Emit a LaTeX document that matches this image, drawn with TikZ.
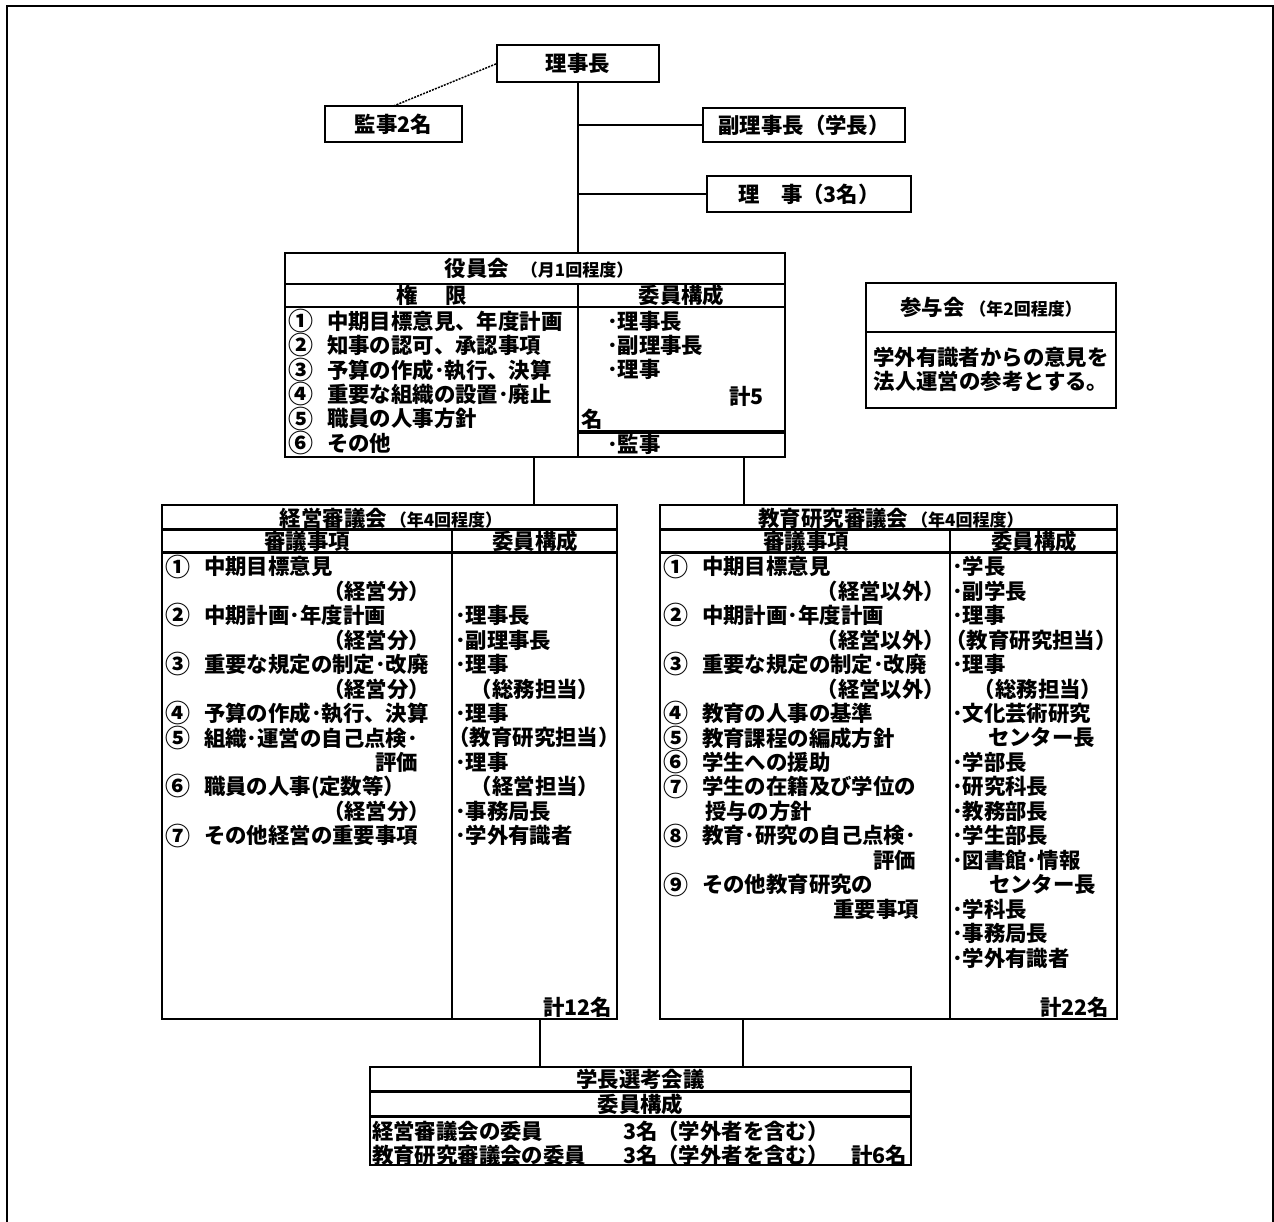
\documentclass[tikz,border=0pt]{standalone}
\usepackage{fontspec}
\setmainfont{Noto Sans CJK JP}
\usetikzlibrary{fit}
\newcommand\numitem[2]{\makebox[39pt][l]{\raisebox{-1.3pt}{\fontsize{25}{25}\selectfont #1}}#2}
\newcommand\smalltxt[1]{{\fontsize{17}{19}\selectfont #1}}
\begin{document}
\begin{tikzpicture}[x=1pt,y=-1pt,
  txt/.style={inner sep=0pt, outer sep=0pt, font=\bfseries\fontsize{21.4}{24}\selectfont},
  lbox/.style={draw, line width=2pt, inner sep=0pt, outer sep=0pt},
  cell/.style={draw, line width=2.5pt, inner sep=0pt, outer sep=0pt},
  conn/.style={line width=1.5pt},
  dots/.style={line width=1.5pt, dash pattern=on 2pt off 1.2pt},
]
\useasboundingbox (0,0) rectangle (1274,1221);
\draw[line width=2.5pt] (7,1230) -- (7,6) -- (1273,6) -- (1273,1230);

% ---- top boxes
\node[lbox, txt, minimum width=162pt, minimum height=37pt] (rijicho) at (578,63.5) {理事長};
\node[lbox, txt, minimum width=137pt, minimum height=36pt] (kanji) at (393.5,124) {監事2名};
\node[lbox, txt, minimum width=202pt, minimum height=34pt] (fuku) at (804,125) {副理事長（学長）};
\node[lbox, txt, minimum width=204pt, minimum height=36pt] (riji) at (809,194) {理　事（3名）};

% ---- 役員会
\node[cell, fit={(285,253) (785,284)}] (yk-title) {};
\node[cell, fit={(285,284) (578,307)}] (yk-h1) {};
\node[cell, fit={(578,284) (785,307)}] (yk-h2) {};
\node[cell, fit={(285,307) (578,457)}] (yk-left) {};
\node[cell, fit={(578,307) (785,431)}] (yk-right) {};
\node[cell, fit={(578,433) (785,457)}] (yk-kanji) {};
\node[txt] (yk-tt) at (539,268) {役員会\hspace{12pt}\smalltxt{（月1回程度）}};
\node[txt] (yk-h1t) at (yk-h1.center) {権\hspace{1.3em}限};
\node[txt] (yk-h2t) at (yk-h2.center) {委員構成};
\foreach \n/\t [count=\i from 0] in {①/中期目標意見、年度計画, ②/知事の認可、承認事項, ③/予算の作成･執行、決算, ④/重要な組織の設置･廃止, ⑤/職員の人事方針, ⑥/その他}
  \node[txt, anchor=west] (yk-l\i) at (288,321+24.4*\i) {\numitem{\n}{\t}};
\node[txt, anchor=west] (yk-r0) at (607,321) {･理事長};
\node[txt, anchor=west] (yk-r1) at (607,345.4) {･副理事長};
\node[txt, anchor=west] (yk-r2) at (607,369.8) {･理事};
\node[txt, anchor=east] (yk-r3) at (764,396) {計5};
\node[txt, anchor=west] (yk-r4) at (581,419) {名};
\node[txt, anchor=west] (yk-r5) at (607,444) {･監事};

% ---- 参与会
\node[cell, fit={(866,283) (1116,332)}] (sy-title) {};
\node[cell, fit={(866,332) (1116,408)}] (sy-body) {};
\node[txt] (sy-tt) at (sy-title.center) {参与会\hspace{5pt}\smalltxt{（年2回程度）}};
\node[txt] (sy-b1) at (991,357) {学外有識者からの意見を};
\node[txt] (sy-b2) at (991,381) {法人運営の参考とする。};

% ---- 経営審議会
\node[cell, fit={(162,505) (617,529)}] (kk-title) {};
\node[cell, fit={(162,530) (452,552)}] (kk-h1) {};
\node[cell, fit={(452,530) (617,552)}] (kk-h2) {};
\node[cell, fit={(162,553) (452,1019)}] (kk-left) {};
\node[cell, fit={(452,553) (617,1019)}] (kk-right) {};
\node[txt] (kk-tt) at (391,518) {経営審議会\hspace{3pt}\smalltxt{（年4回程度）}};
\node[txt] (kk-h1t) at (307,541.5) {審議事項};
\node[txt] (kk-h2t) at (535,541.5) {委員構成};
\def\yy#1{566.5+24.475*#1}
\node[txt, anchor=west] (kk-l0) at (165,{\yy{0}}) {\numitem{①}{中期目標意見}};
\node[txt, anchor=east] (kk-l1) at (430,{\yy{1}}) {（経営分）};
\node[txt, anchor=west] (kk-l2) at (165,{\yy{2}}) {\numitem{②}{中期計画･年度計画}};
\node[txt, anchor=east] (kk-l3) at (430,{\yy{3}}) {（経営分）};
\node[txt, anchor=west] (kk-l4) at (165,{\yy{4}}) {\numitem{③}{重要な規定の制定･改廃}};
\node[txt, anchor=east] (kk-l5) at (430,{\yy{5}}) {（経営分）};
\node[txt, anchor=west] (kk-l6) at (165,{\yy{6}}) {\numitem{④}{予算の作成･執行、決算}};
\node[txt, anchor=west] (kk-l7) at (165,{\yy{7}}) {\numitem{⑤}{組織･運営の自己点検･}};
\node[txt, anchor=east] (kk-l8) at (418,{\yy{8}}) {評価};
\node[txt, anchor=west] (kk-l9) at (165,{\yy{9}}) {\numitem{⑥}{職員の人事(定数等）}};
\node[txt, anchor=east] (kk-l10) at (430,{\yy{10}}) {（経営分）};
\node[txt, anchor=west] (kk-l11) at (165,{\yy{11}}) {\numitem{⑦}{その他経営の重要事項}};
\node[txt, anchor=west] (kk-r2) at (455,{\yy{2}}) {･理事長};
\node[txt, anchor=west] (kk-r3) at (455,{\yy{3}}) {･副理事長};
\node[txt, anchor=west] (kk-r4) at (455,{\yy{4}}) {･理事};
\node[txt] (kk-r5) at (535,{\yy{5}}) {（総務担当）};
\node[txt, anchor=west] (kk-r6) at (455,{\yy{6}}) {･理事};
\node[txt] (kk-r7) at (534,{\yy{7}}) {（教育研究担当）};
\node[txt, anchor=west] (kk-r8) at (455,{\yy{8}}) {･理事};
\node[txt] (kk-r9) at (535,{\yy{9}}) {（経営担当）};
\node[txt, anchor=west] (kk-r10) at (455,{\yy{10}}) {･事務局長};
\node[txt, anchor=west] (kk-r11) at (455,{\yy{11}}) {･学外有識者};
\node[txt, anchor=east] (kk-tot) at (612,1007) {計12名};

% ---- 教育研究審議会
\node[cell, fit={(660,505) (1117,529)}] (ek-title) {};
\node[cell, fit={(660,530) (950,552)}] (ek-h1) {};
\node[cell, fit={(950,530) (1117,552)}] (ek-h2) {};
\node[cell, fit={(660,553) (950,1019)}] (ek-left) {};
\node[cell, fit={(950,553) (1117,1019)}] (ek-right) {};
\node[txt] (ek-tt) at (891,518) {教育研究審議会\hspace{3pt}\smalltxt{（年4回程度）}};
\node[txt] (ek-h1t) at (806,541.5) {審議事項};
\node[txt] (ek-h2t) at (1034,541.5) {委員構成};
\node[txt, anchor=west] (ek-l0) at (663,{\yy{0}}) {\numitem{①}{中期目標意見}};
\node[txt, anchor=east] (ek-l1) at (945,{\yy{1}}) {（経営以外）};
\node[txt, anchor=west] (ek-l2) at (663,{\yy{2}}) {\numitem{②}{中期計画･年度計画}};
\node[txt, anchor=east] (ek-l3) at (945,{\yy{3}}) {（経営以外）};
\node[txt, anchor=west] (ek-l4) at (663,{\yy{4}}) {\numitem{③}{重要な規定の制定･改廃}};
\node[txt, anchor=east] (ek-l5) at (945,{\yy{5}}) {（経営以外）};
\node[txt, anchor=west] (ek-l6) at (663,{\yy{6}}) {\numitem{④}{教育の人事の基準}};
\node[txt, anchor=west] (ek-l7) at (663,{\yy{7}}) {\numitem{⑤}{教育課程の編成方針}};
\node[txt, anchor=west] (ek-l8) at (663,{\yy{8}}) {\numitem{⑥}{学生への援助}};
\node[txt, anchor=west] (ek-l9) at (663,{\yy{9}}) {\numitem{⑦}{学生の在籍及び学位の}};
\node[txt, anchor=west] (ek-l10) at (705,{\yy{10}}) {授与の方針};
\node[txt, anchor=west] (ek-l11) at (663,{\yy{11}}) {\numitem{⑧}{教育･研究の自己点検･}};
\node[txt, anchor=east] (ek-l12) at (916,{\yy{12}}) {評価};
\node[txt, anchor=west] (ek-l13) at (663,{\yy{13}}) {\numitem{⑨}{その他教育研究の}};
\node[txt, anchor=east] (ek-l14) at (919,{\yy{14}}) {重要事項};
\node[txt, anchor=west] (ek-r0) at (952,{\yy{0}}) {･学長};
\node[txt, anchor=west] (ek-r1) at (952,{\yy{1}}) {･副学長};
\node[txt, anchor=west] (ek-r2) at (952,{\yy{2}}) {･理事};
\node[txt] (ek-r3) at (1031,{\yy{3}}) {（教育研究担当）};
\node[txt, anchor=west] (ek-r4) at (952,{\yy{4}}) {･理事};
\node[txt] (ek-r5) at (1038,{\yy{5}}) {（総務担当）};
\node[txt, anchor=west] (ek-r6) at (952,{\yy{6}}) {･文化芸術研究};
\node[txt, anchor=east] (ek-r7) at (1095,{\yy{7}}) {センター長};
\node[txt, anchor=west] (ek-r8) at (952,{\yy{8}}) {･学部長};
\node[txt, anchor=west] (ek-r9) at (952,{\yy{9}}) {･研究科長};
\node[txt, anchor=west] (ek-r10) at (952,{\yy{10}}) {･教務部長};
\node[txt, anchor=west] (ek-r11) at (952,{\yy{11}}) {･学生部長};
\node[txt, anchor=west] (ek-r12) at (952,{\yy{12}}) {･図書館･情報};
\node[txt, anchor=east] (ek-r13) at (1096,{\yy{13}}) {センター長};
\node[txt, anchor=west] (ek-r14) at (952,{\yy{14}}) {･学科長};
\node[txt, anchor=west] (ek-r15) at (952,{\yy{15}}) {･事務局長};
\node[txt, anchor=west] (ek-r16) at (952,{\yy{16}}) {･学外有識者};
\node[txt, anchor=east] (ek-tot) at (1109,1007) {計22名};

% ---- 学長選考会議
\node[cell, fit={(370,1067) (911,1091)}] (gk-title) {};
\node[cell, fit={(370,1092) (911,1116)}] (gk-h) {};
\node[cell, fit={(370,1117) (911,1165)}] (gk-body) {};
\node[txt] (gk-tt) at (gk-title.center) {学長選考会議};
\node[txt] (gk-ht) at (gk-h.center) {委員構成};
\node[txt, anchor=west] (gk-a1) at (372,1131) {経営審議会の委員};
\node[txt, anchor=west] (gk-a2) at (623,1131) {3名（学外者を含む）};
\node[txt, anchor=west] (gk-b1) at (372,1155) {教育研究審議会の委員};
\node[txt, anchor=west] (gk-b2) at (623,1155) {3名（学外者を含む）};
\node[txt, anchor=east] (gk-tot) at (907,1155) {計6名};

% ---- connectors
\coordinate (c1) at (534,0);
\coordinate (c2) at (744,0);
\coordinate (c3) at (540,0);
\coordinate (c4) at (743,0);
\draw[conn] (rijicho.south) -- (rijicho.south |- yk-title.north);
\draw[conn] (fuku.west) -- (fuku.west -| rijicho.south);
\draw[conn] (riji.west) -- (riji.west -| rijicho.south);
\draw[dots] (kanji.north) -- (rijicho.west);
\draw[conn] (yk-left.south -| c1) -- (kk-title.north -| c1);
\draw[conn] (yk-kanji.south -| c2) -- (ek-title.north -| c2);
\draw[conn] (kk-right.south -| c3) -- (gk-title.north -| c3);
\draw[conn] (ek-left.south -| c4) -- (gk-title.north -| c4);
\end{tikzpicture}
\end{document}
